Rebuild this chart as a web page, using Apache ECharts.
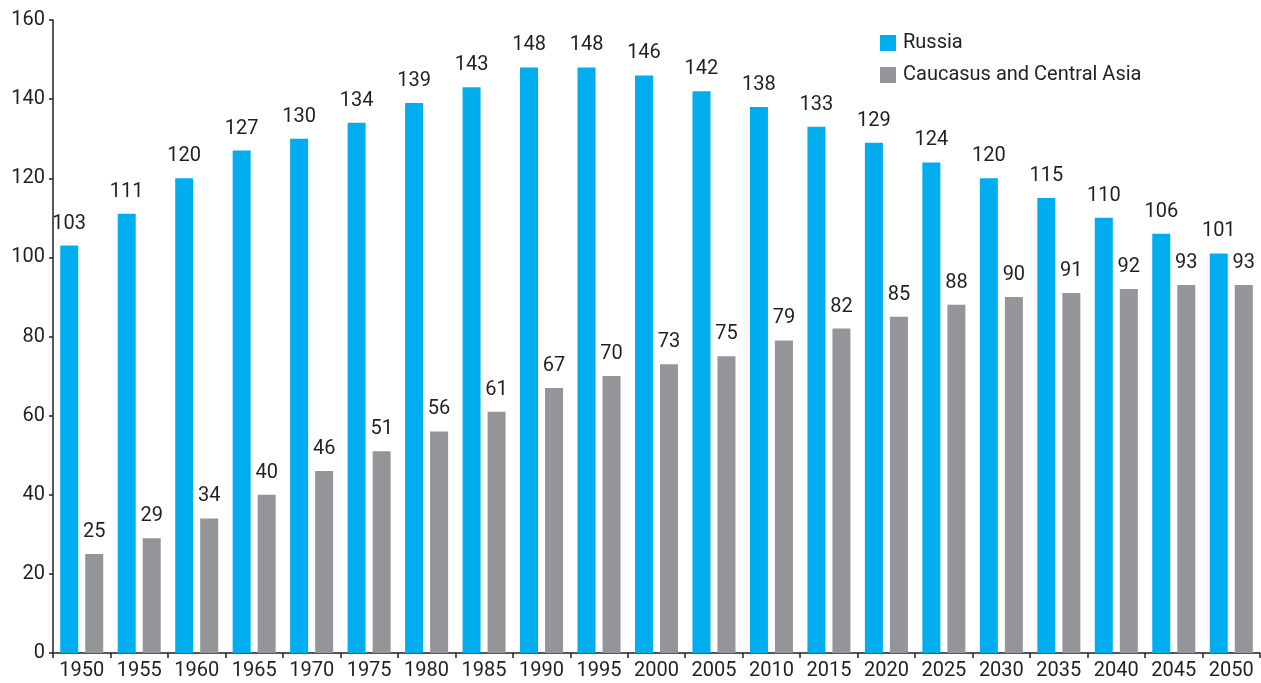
<!DOCTYPE html>
<html>
<head>
<meta charset="utf-8">
<style>
  html, body { margin: 0; padding: 0; background: #fff; }
  #chart { width: 1261px; height: 683px; }
</style>
<script src="https://cdn.jsdelivr.net/npm/echarts@6/dist/echarts.min.js"></script>
</head>
<body>
<div id="chart"></div>
<script>
const years = ['1950', '1955', '1960', '1965', '1970', '1975', '1980', '1985', '1990', '1995', '2000',
  '2005', '2010', '2015', '2020', '2025', '2030', '2035', '2040', '2045', '2050']
const russia = [103, 111, 120, 127, 130, 134, 139, 143, 148, 148, 146, 142, 138, 133, 129, 124, 120, 115, 110, 106, 101]
const caucasus = [25, 29, 34, 40, 46, 51, 56, 61, 67, 70, 73, 75, 79, 82, 85, 88, 90, 91, 92, 93, 93]

const font = 'Roboto, sans-serif'
const ink = '#231f20'

const chart = echarts.init(document.getElementById('chart'))
const barLabel = {
  show: true,
  position: 'top',
  distance: 12,
  fontFamily: font,
  fontSize: 20,
  color: ink
}

chart.setOption({
  animation: false,
  textStyle: { fontFamily: font },
  legend: {
    orient: 'vertical',
    left: 875,
    top: 28,
    itemWidth: 16,
    itemHeight: 16,
    itemGap: 12,
    icon: 'rect',
    textStyle: { fontFamily: font, fontSize: 20, color: ink, padding: [0, 0, 0, 2] },
    data: ['Russia', 'Caucasus and Central Asia']
  },
  grid: {
    left: 53,
    right: 1,
    top: 20,
    bottom: 30,
    containLabel: false
  },
  xAxis: {
    type: 'category',
    data: years,
    axisLine: { lineStyle: { color: ink, width: 1.5 } },
    axisTick: { show: true, interval: 0, length: 5, lineStyle: { color: ink, width: 1.5 } },
    axisLabel: { interval: 0, fontFamily: font, fontSize: 20, color: ink, margin: 8 }
  },
  yAxis: {
    type: 'value',
    min: 0,
    max: 160,
    interval: 20,
    axisLine: { show: true, lineStyle: { color: ink, width: 1.5 } },
    axisTick: { show: true, length: 4, lineStyle: { color: ink, width: 1.5 } },
    axisLabel: { fontFamily: font, fontSize: 20, color: ink, margin: 8 },
    splitLine: { show: false }
  },
  series: [
    {
      name: 'Russia',
      type: 'bar',
      data: russia,
      barWidth: 18,
      barGap: '39%',
      itemStyle: { color: '#00aeef' },
      label: barLabel
    },
    {
      name: 'Caucasus and Central Asia',
      type: 'bar',
      data: caucasus,
      barWidth: 18,
      itemStyle: { color: '#939598' },
      label: barLabel
    }
  ]
})
</script>
</body>
</html>
